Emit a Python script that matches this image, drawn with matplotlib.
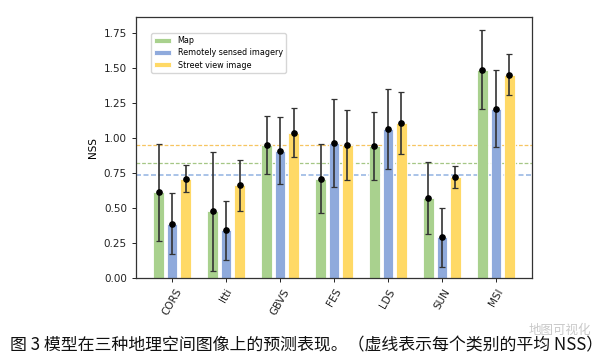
import numpy as np
import matplotlib
matplotlib.use("Agg")
import matplotlib.pyplot as plt

# model names and per-image-type NSS mean / error
models = ["CORS", "Itti", "GBVS", "FES", "LDS", "SUN", "MSI"]
series = ["Map", "Remotely sensed imagery", "Street view image"]

map_mean = [0.612, 0.476, 0.948, 0.710, 0.943, 0.569, 1.486]
map_err = [0.347, 0.423, 0.206, 0.244, 0.244, 0.257, 0.282]
rs_mean = [0.388, 0.340, 0.910, 0.962, 1.062, 0.291, 1.210]
rs_err = [0.216, 0.211, 0.237, 0.315, 0.285, 0.210, 0.277]
sv_mean = [0.709, 0.662, 1.038, 0.950, 1.105, 0.719, 1.452]
sv_err = [0.097, 0.180, 0.177, 0.250, 0.222, 0.079, 0.147]

caption = "图 3 模型在三种地理空间图像上的预测表现。（虚线表示每个类别的平均 NSS）"

bar_colors = ["#a9d18e", "#8faadc", "#ffd966"]
line_colors = ["#a5c785", "#9bb9e4", "#f7c560"]
line_widths = [0.9, 1.2, 0.9]

fig = plt.figure(figsize=(6.13, 3.63), dpi=100)
ax = fig.add_axes([136 / 613, 1 - 278 / 363, 396 / 613, 261 / 363])

x = np.arange(len(models))
width = 0.2
offsets = [-0.25, 0.0, 0.25]
means = [map_mean, rs_mean, sv_mean]
errs = [map_err, rs_err, sv_err]

# mean lines across categories
for m, c, lw in zip(means, line_colors, line_widths):
    ax.axhline(np.mean(m), color=c, linestyle=(0, (3, 1.5)), linewidth=lw, zorder=1)

for i in range(3):
    ax.bar(x + offsets[i], means[i], width=width, color=bar_colors[i],
           edgecolor="white", linewidth=0.6, label=series[i], zorder=2)
    ax.errorbar(x + offsets[i], means[i], yerr=errs[i], fmt="o", color="black",
                ecolor="#333333", elinewidth=1.2, capsize=2.2, capthick=0.9,
                markersize=3.8, zorder=3)

ax.set_xlim(-0.667, 6.667)
ax.set_ylim(0, 1.864)
ax.set_yticks([0, 0.25, 0.5, 0.75, 1.0, 1.25, 1.5, 1.75])
ax.set_xticks(x)
ax.set_xticklabels(models, rotation=60)
ax.set_ylabel("NSS", fontsize=7.5, labelpad=4)
ax.tick_params(axis="both", labelsize=7.5, length=3, width=0.7, colors="#222222")
for s in ax.spines.values():
    s.set_linewidth(0.9)
    s.set_color("#333333")

leg = ax.legend(loc="upper left", bbox_to_anchor=(0.038, 0.939), borderaxespad=0,
                fontsize=5.8, handlelength=2.1, handleheight=0.55, labelspacing=0.4,
                framealpha=0.8, edgecolor="#cccccc")

fig.text(0.5, 1 - 345 / 363, caption, ha="center", va="center", fontsize=12.2,
         family=["Noto Sans CJK SC", "DejaVu Sans"], color="#111111")
fig.text(0.965, 1 - 330 / 363, "地图可视化", ha="right", va="center", fontsize=9,
         family=["Noto Sans CJK SC", "DejaVu Sans"], color="#bbbbbb", alpha=0.8)

fig.savefig("out.png", dpi=100)
